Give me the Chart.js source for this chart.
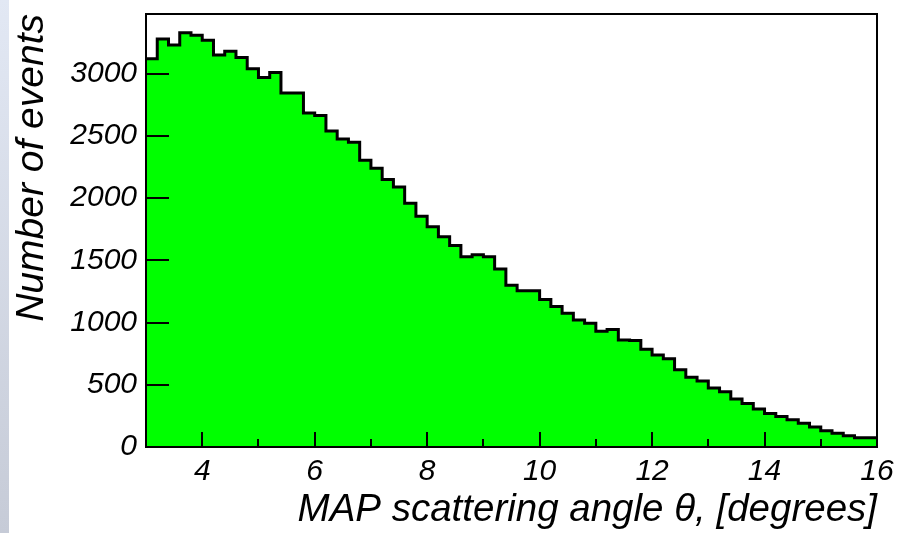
<!DOCTYPE html>
<html>
<head>
<meta charset="utf-8">
<script src="https://cdn.jsdelivr.net/npm/chart.js@4.4.0/dist/chart.umd.min.js"></script>
<style>
  html, body { margin: 0; padding: 0; }
  body {
    width: 899px; height: 533px; overflow: hidden;
    background: linear-gradient(to bottom, #e2e8f4, #c6cbd7) no-repeat 0 0 / 9px 100%, #ffffff;
  }
  #wrap { position: absolute; left: 0; top: 0; width: 899px; height: 533px; }
</style>
</head>
<body>
<div id="wrap"><canvas id="c" width="899" height="533"></canvas></div>
<script>
// Bin edges of the histogram (degrees)
const binEdges = [3.0,3.2,3.4,3.6,3.8,4.0,4.2,4.4,4.6,4.8,5.0,5.2,5.4,5.6,5.8,6.0,6.2,6.4,6.6,6.8,
  7.0,7.2,7.4,7.6,7.8,8.0,8.2,8.4,8.6,8.8,9.0,9.2,9.4,9.6,9.8,10.0,10.2,10.4,10.6,10.8,
  11.0,11.2,11.4,11.6,11.8,12.0,12.2,12.4,12.6,12.8,13.0,13.2,13.4,13.6,13.8,14.0,14.2,14.4,14.6,14.8,
  15.0,15.2,15.4,15.6,15.8,16.0];
// Number of events per bin
const binValues = [3120,3280,3230,3330,3310,3270,3150,3180,3130,3040,
  2970,3010,2845,2845,2685,2665,2540,2475,2450,2305,
  2240,2150,2090,1960,1855,1770,1690,1620,1530,1545,
  1530,1430,1300,1255,1255,1185,1130,1075,1020,995,
  930,945,860,855,785,740,710,620,560,530,
  475,445,385,350,305,270,245,220,190,160,
  130,110,90,75,75];
const xTickLabels = [4,6,8,10,12,14,16];
const xMinorTicks = [5,7,9,11,13,15];
const yTickLabels = [0,500,1000,1500,2000,2500,3000];
const xTitle = 'MAP scattering angle \u03B8, [degrees]';
const yTitle = 'Number of events';

const points = binEdges.map((x, i) => ({ x: x, y: binValues[Math.min(i, binValues.length - 1)] }));

const insideTicks = {
  id: 'insideTicks',
  afterDatasetsDraw(chart) {
    const ctx = chart.ctx, xs = chart.scales.x, ys = chart.scales.y, a = chart.chartArea;
    ctx.save();
    ctx.strokeStyle = '#000';
    ctx.lineWidth = 2;
    ctx.beginPath();
    xTickLabels.forEach(v => { const px = Math.round(xs.getPixelForValue(v)); ctx.moveTo(px, a.bottom); ctx.lineTo(px, a.bottom - 15); });
    xMinorTicks.forEach(v => { const px = Math.round(xs.getPixelForValue(v)); ctx.moveTo(px, a.bottom); ctx.lineTo(px, a.bottom - 8); });
    yTickLabels.forEach(v => { const py = Math.round(ys.getPixelForValue(v)); ctx.moveTo(a.left, py); ctx.lineTo(a.left + 23, py); });
    ctx.stroke();
    ctx.lineWidth = 2;
    ctx.strokeRect(a.left, a.top, a.right - a.left, a.bottom - a.top);
    ctx.restore();
  }
};

const FONT = 'Liberation Sans, Arial, sans-serif';

new Chart(document.getElementById('c'), {
  type: 'line',
  data: {
    datasets: [{
      data: points,
      stepped: 'before',
      borderColor: '#000000',
      borderWidth: 3,
      backgroundColor: '#00ff00',
      fill: 'origin',
      pointRadius: 0,
      tension: 0
    }]
  },
  options: {
    responsive: false,
    animation: false,
    layout: { padding: { top: 14, right: 22, left: 0, bottom: 0 } },
    plugins: { legend: { display: false }, tooltip: { enabled: false } },
    scales: {
      x: {
        type: 'linear', min: 3, max: 16,
        afterBuildTicks: s => { s.ticks = xTickLabels.map(v => ({ value: v })); },
        afterFit: s => { s.height = 86; s.paddingLeft = 0; s.paddingRight = 0; },
        grid: { display: false, drawTicks: false },
        border: { display: true, color: '#000', width: 2 },
        ticks: { color: '#000', padding: 7, maxRotation: 0, autoSkip: false,
          callback: v => String(v),
          font: { family: FONT, size: 30, style: 'italic' } },
        title: { display: true, text: xTitle, align: 'end', color: '#000',
          font: { family: FONT, size: 38.5, style: 'italic' },
          padding: { top: 0, bottom: 0 } }
      },
      y: {
        type: 'linear', min: 0, max: 3480,
        afterBuildTicks: s => { s.ticks = yTickLabels.map(v => ({ value: v })); },
        afterFit: s => { s.width = 146; s.paddingTop = 0; s.paddingBottom = 0; },
        grid: { display: false, drawTicks: false },
        border: { display: true, color: '#000', width: 2 },
        ticks: { color: '#000', padding: 9, autoSkip: false,
          callback: v => String(v),
          font: { family: FONT, size: 30, style: 'italic' } },
        title: { display: true, text: yTitle, align: 'end', color: '#000',
          font: { family: FONT, size: 39, style: 'italic' },
          padding: { top: 9, bottom: 0 } }
      }
    }
  },
  plugins: [insideTicks]
});
</script>
</body>
</html>
